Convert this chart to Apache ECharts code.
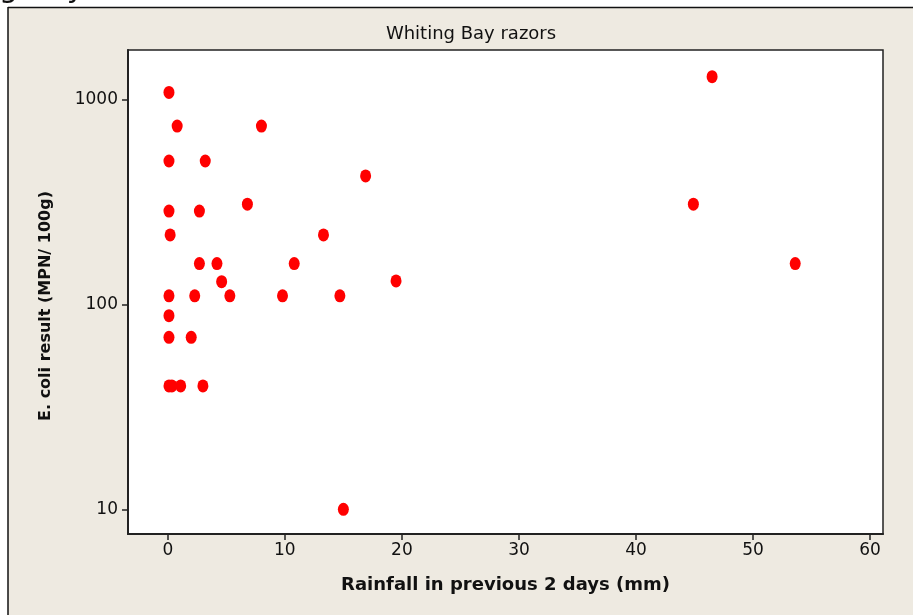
<!DOCTYPE html>
<html><head><meta charset="utf-8">
<script src="https://cdn.jsdelivr.net/npm/echarts@6/dist/echarts.min.js"></script>
<style>html,body{margin:0;padding:0;background:#fff;} #c{width:913px;height:615px;}</style>
</head><body><div id="c"></div>
<script>
// Rainfall in previous 2 days (mm)
const rainfall = [0.1, 0.8, 8.0, 0.1, 3.2, 0.1, 2.7, 6.8, 0.2, 2.7, 4.2, 10.8, 4.6,
  0.1, 2.3, 5.3, 9.8, 14.7, 0.1, 0.1, 2.0, 0.1, 0.35, 1.1, 3.0,
  16.9, 13.3, 19.5, 15.0, 46.5, 44.9, 53.6];
// E. coli result (MPN/100g)
const ecoli = [1080, 740, 740, 500, 500, 285, 285, 308, 218, 158, 158, 158, 129,
  110, 110, 110, 110, 110, 88, 69, 69, 40, 40, 40, 40,
  423, 218, 130, 10, 1290, 308, 158];
const xTicks = [0, 10, 20, 30, 40, 50, 60];
const yTicks = [10, 100, 1000];
const titleText = 'Whiting Bay razors';
const xName = 'Rainfall in previous 2 days (mm)';
const yName = 'E. coli result (MPN/ 100g)';

const points = rainfall.map((r, i) => [r, ecoli[i]]);
const chart = echarts.init(document.getElementById('c'), null, {renderer: 'canvas'});
const FONT = '"DejaVu Sans", Verdana, sans-serif';
chart.setOption({
  animation: false,
  backgroundColor: '#EEEAE1',
  textStyle: {fontFamily: FONT},
  title: {
    text: titleText, left: 466, top: 20, textAlign: 'center',
    textStyle: {fontFamily: FONT, fontSize: 18, fontWeight: 'normal', color: '#111'}
  },
  graphic: [
    {type: 'rect', shape: {x: 0, y: 0, width: 913, height: 7}, style: {fill: '#fff'}, silent: true},
    {type: 'rect', shape: {x: 0, y: 0, width: 8, height: 615}, style: {fill: '#fff'}, silent: true},
    {type: 'text', x: -97, y: -25.5, style: {text: titleText, font: '30px "DejaVu Sans"', fill: '#111'}, silent: true},
    {type: 'rect', shape: {x: 8, y: 7, width: 913, height: 6}, style: {fill: '#EEEAE1'}, silent: true},
    {type: 'line', shape: {x1: 8, y1: 7.5, x2: 913, y2: 7.5}, style: {stroke: '#111', lineWidth: 1.5}, silent: true},
    {type: 'line', shape: {x1: 8, y1: 7, x2: 8, y2: 615}, style: {stroke: '#111', lineWidth: 1.5}, silent: true}
  ],
  grid: {
    left: 128, right: 30, top: 50, bottom: 81,
    show: true, backgroundColor: '#fff', borderColor: '#222', borderWidth: 1.5
  },
  xAxis: {
    type: 'value', min: -3.4, max: 61.1,
    name: xName, nameLocation: 'middle', nameGap: 42,
    nameTextStyle: {fontFamily: FONT, fontSize: 18, fontWeight: 'bold', color: '#111'},
    axisLine: {show: true, onZero: false, lineStyle: {color: '#222', width: 2}},
    axisTick: {show: true, length: 6, customValues: xTicks, lineStyle: {color: '#222', width: 1.5}},
    axisLabel: {customValues: xTicks, fontSize: 17, color: '#111', margin: 8},
    splitLine: {show: false}
  },
  yAxis: {
    type: 'log', logBase: 10, min: 7.58, max: 1740,
    name: yName, nameLocation: 'middle', nameGap: 74,
    nameTextStyle: {fontFamily: FONT, fontSize: 16, fontWeight: 'bold', color: '#111', padding: [0, 28, 0, 0]},
    axisLine: {show: true, onZero: false, lineStyle: {color: '#222', width: 2}},
    axisTick: {show: true, length: 6, customValues: yTicks, lineStyle: {color: '#222', width: 1.5}},
    axisLabel: {customValues: yTicks, fontSize: 17, color: '#111', margin: 10, formatter: v => String(v)},
    splitLine: {show: false}
  },
  series: [{
    type: 'scatter', data: points, symbol: 'circle', symbolSize: [11, 13],
    itemStyle: {color: '#FF0000', opacity: 1}
  }]
});
</script></body></html>
